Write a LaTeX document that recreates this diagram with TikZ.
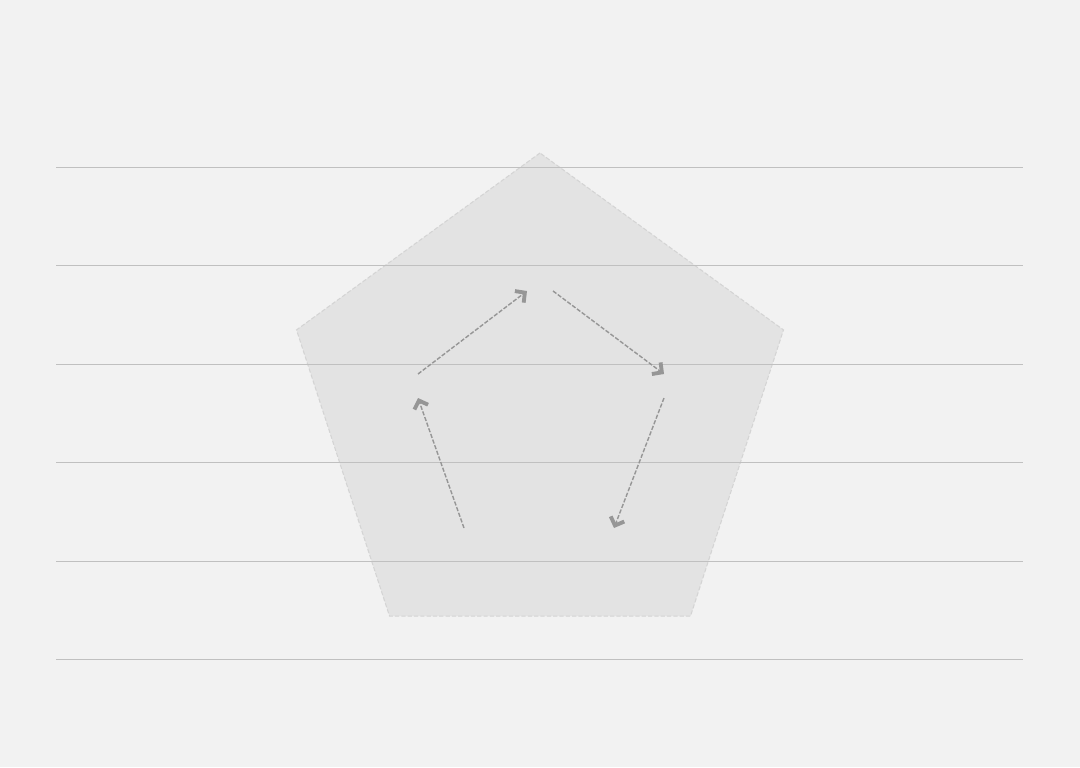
\documentclass[tikz,border=0pt]{standalone}
\definecolor{pagegray}{RGB}{242, 242, 242}
\definecolor{pentfill}{RGB}{227, 227, 227}
\definecolor{pentline}{RGB}{212, 212, 212}
\definecolor{rulegray}{RGB}{192, 192, 192}
\definecolor{flowgray}{RGB}{150, 150, 150}
\usepackage{tikz}
\usetikzlibrary{arrows.meta, shapes.geometric, positioning}

\begin{document}
\begin{tikzpicture}[
		rulestyle/.style={draw=rulegray,line width=0.3pt},
		pentstyle/.style={regular polygon,regular polygon sides=5,minimum size=5.12cm,
			inner sep=0pt,draw=pentline,fill=pentfill,line width=0.3pt,dash pattern=on 1.2pt off 0.6pt},
		spot/.style={minimum width=0.26cm,minimum height=0.24cm,inner sep=0pt,outer sep=0pt},
		flow/.style={draw=flowgray,line width=0.4pt,dash pattern=on 1.2pt off 0.5pt,
			-{Straight Barb[length=0.7mm,width=1.45mm,line width=1.1pt]}}]
				\fill[pagegray] (0,0) rectangle (10.8,7.67);
				\useasboundingbox (0,0) rectangle (10.8,7.67);
				
				\node[pentstyle] (pent) at (5.40,3.58) {};
				
				\foreach \i in {0,...,5}
				\draw[rulestyle] (0.56,5.995-\i*0.984) -- (10.23,5.995-\i*0.984);
				
				\node[spot] (top) at (5.40,4.76) {};
				\node[spot] (left) at (4.18,3.81) {};
				\node[spot] (right) at (6.64,3.81) {};
				\node[spot] (botright) at (6.14,2.27) {};
				\node[spot] (botleft) at (4.64,2.27) {};
				
				\draw[flow] (left.north) -- (top.west);
				\draw[flow] (top.east) -- (right.north);
				\draw[flow] (right.south) -- (botright.north);
				\draw[flow] (botleft.north) -- (left.south);
\end{tikzpicture}
\end{document}
